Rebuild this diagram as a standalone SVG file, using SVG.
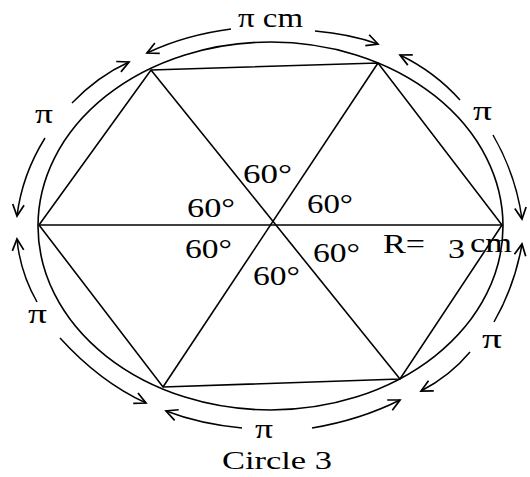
<svg xmlns="http://www.w3.org/2000/svg" width="530" height="477" viewBox="0 0 530 477">
<style>
.ln{fill:none;stroke:#000;stroke-width:1.6}
.ar{fill:none;stroke:#000;stroke-width:1.5;marker-end:url(#ah)}
text{font-family:"Liberation Serif","Times New Roman",serif;fill:#000}
.lb{font-size:28px}
.pi{font-size:27px}
.cap{font-size:26px}
</style>
<defs>
<marker id="ah" markerUnits="userSpaceOnUse" markerWidth="16" markerHeight="16" viewBox="-12 -7 14 14" refX="0" refY="0" orient="auto">
<path d="M-10,-5 L0,0 L-10,5" fill="none" stroke="#000" stroke-width="1.5"/>
</marker>
</defs>
<rect width="530" height="477" fill="#fff"/>
<g id="circle">
<ellipse class="ln" cx="270.5" cy="226" rx="232.5" ry="184"/>
</g>
<g id="hexagon">
<polygon class="ln" points="151,70 378,63 502,225 400,379 163,387 39,225"/>
</g>
<g id="connectors">
<line class="ln" x1="39" y1="225" x2="502" y2="225"/>
<line class="ln" x1="151" y1="70" x2="400" y2="379"/>
<line class="ln" x1="378" y1="63" x2="163" y2="387"/>
<path class="ar" d="M231,29 Q185,35 147,53"/>
<path class="ar" d="M315,31 Q350,34 378,44"/>
<path class="ar" d="M72,103 Q98,76 129,62"/>
<path class="ar" d="M45,138 Q22,175 17,216"/>
<path class="ar" d="M37,302 Q20,272 17,239"/>
<path class="ar" d="M60,338 Q100,382 146,403"/>
<path class="ar" d="M242,428 Q200,424 166,411"/>
<path class="ar" d="M312,428 Q360,420 400,400"/>
<path class="ar" d="M494,322 Q515,285 522,244"/>
<path class="ar" d="M470,352 Q450,376 421,391"/>
<path class="ar" d="M460,100 Q435,72 400,55"/>
<path class="ar" d="M493,135 Q516,175 522,219"/>
</g>
<g id="labels">
<text class="pi" x="238" y="27" textLength="65" lengthAdjust="spacingAndGlyphs">π cm</text>
<text class="pi" x="35" y="123" textLength="18" lengthAdjust="spacingAndGlyphs">π</text>
<text class="pi" x="473" y="120" textLength="19" lengthAdjust="spacingAndGlyphs">π</text>
<text class="pi" x="28" y="323" textLength="19" lengthAdjust="spacingAndGlyphs">π</text>
<text class="pi" x="482" y="348" textLength="20" lengthAdjust="spacingAndGlyphs">π</text>
<text class="pi" x="255" y="438" textLength="18" lengthAdjust="spacingAndGlyphs">π</text>
<text class="lb" x="243" y="183" textLength="49" lengthAdjust="spacingAndGlyphs">60°</text>
<text class="lb" x="187" y="217" textLength="48" lengthAdjust="spacingAndGlyphs">60°</text>
<text class="lb" x="307" y="213" textLength="46" lengthAdjust="spacingAndGlyphs">60°</text>
<text class="lb" x="185" y="258" textLength="47" lengthAdjust="spacingAndGlyphs">60°</text>
<text class="lb" x="253" y="285" textLength="47" lengthAdjust="spacingAndGlyphs">60°</text>
<text class="lb" x="313" y="262" textLength="47" lengthAdjust="spacingAndGlyphs">60°</text>
<text class="lb" x="383" y="253" textLength="42" lengthAdjust="spacingAndGlyphs">R=</text>
<text class="lb" x="448" y="258" textLength="17" lengthAdjust="spacingAndGlyphs">3</text>
<text class="lb" x="470" y="252" textLength="42" lengthAdjust="spacingAndGlyphs">cm</text>
<text class="cap" x="222" y="469" textLength="110" lengthAdjust="spacingAndGlyphs">Circle  3</text>
</g>
</svg>
